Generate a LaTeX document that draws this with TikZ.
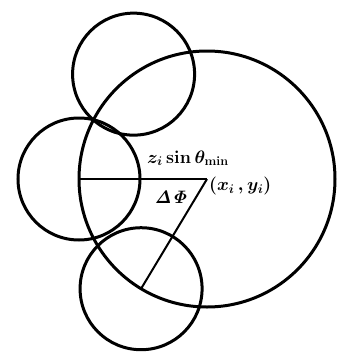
\RequirePackage{fix-cm}
\documentclass[tikz,border=0pt]{standalone}
\usetikzlibrary{calc}
\begin{document}
\begin{tikzpicture}[x=1pt,y=-1pt,
  ring/.style={line width=3pt},
  radius line/.style={line width=2pt},
  lbl/.style={inner sep=0pt,font=\fontsize{18}{22}\selectfont\boldmath}]
\useasboundingbox (0,0) rectangle (339,354);
\def\R{128}
\def\r{61}
\coordinate (O) at (207,179);
\coordinate (L) at ($(O)+(180:\R)$);
\coordinate (T) at ($(O)+(-125:\R)$);
\coordinate (B) at ($(O)+(121:\R)$);
\draw[ring] (O) circle[radius=\R];
\draw[ring] (L) circle[radius=\r];
\draw[ring] (T) circle[radius=\r];
\draw[ring] (B) circle[radius=\r];
\draw[radius line] (L) -- (O);
\draw[radius line] (O) -- (B);
\node[lbl,anchor=base] (zs) at (188,163) {$z_i\sin\theta_{\min}$};
\node[lbl] (dp) at (171,197) {$\mathit{\Delta\Phi}$};
\node[lbl,anchor=west] (xy) at (209,186) {$(x_i\,,y_i)$};
\end{tikzpicture}
\end{document}
